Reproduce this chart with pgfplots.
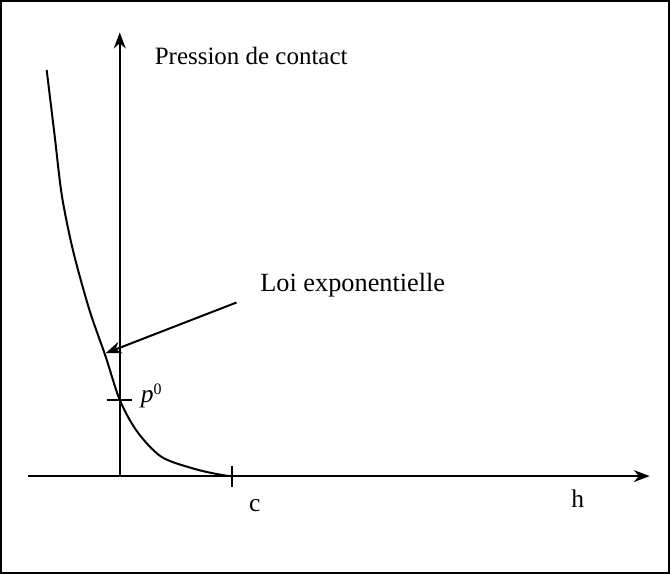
\documentclass[border=0pt]{standalone}
\usepackage{pgfplots}
\pgfplotsset{compat=1.18}
\usetikzlibrary{arrows.meta}
\usepackage{fontspec}
\setmainfont{Liberation Serif}
\begin{document}
\begin{tikzpicture}
\begin{axis}[
  scale only axis,
  width=9cm, height=7.683cm,
  xmin=0, xmax=670, ymin=0, ymax=572,
  axis lines=none,
  ticks=none,
  clip=false,
]
% frame
\draw[line width=0.75pt] (axis cs:9,3) rectangle (axis cs:667,566);
% axes
\draw[line width=0.75pt,-{Stealth[length=6pt,width=4.5pt]}] (axis cs:126,98) -- (axis cs:126,535);
\draw[line width=0.75pt,-{Stealth[length=6pt,width=4.5pt]}] (axis cs:36,98) -- (axis cs:648,98);
% exponential curve
\addplot[line width=0.75pt, smooth, tension=0.5] coordinates {
 (54,498) (62,432) (69,374) (80,320) (96,262) (112,216) (126,173)
 (143,142) (167,117) (200,105) (227,99) (237,98)
};
% ticks
\draw[line width=0.75pt] (axis cs:113,173) -- (axis cs:138,173);
\draw[line width=0.75pt] (axis cs:237,108) -- (axis cs:237,87);
% annotation arrow
\draw[line width=0.75pt,-{Stealth[length=6pt,width=4.5pt]}] (axis cs:241,269) -- (axis cs:112,219);
% labels
\node[anchor=west,font=\fontsize{9.4}{11}\selectfont,inner sep=0pt] at (axis cs:160,512) {Pression de contact};
\node[anchor=west,font=\fontsize{9.9}{11}\selectfont,inner sep=0pt] at (axis cs:264,286) {Loi exponentielle};
\node[font=\fontsize{9.6}{11}\selectfont,inner sep=0pt] at (axis cs:259,69) {c};
\node[font=\fontsize{9.6}{11}\selectfont,inner sep=0pt] at (axis cs:577,76) {h};
\node[font=\fontsize{9.6}{11}\selectfont,inner sep=0pt] at (axis cs:157,177) {\textit{p}\raisebox{0.7ex}{\fontsize{6}{7}\selectfont 0}};
\end{axis}
\end{tikzpicture}
\end{document}
